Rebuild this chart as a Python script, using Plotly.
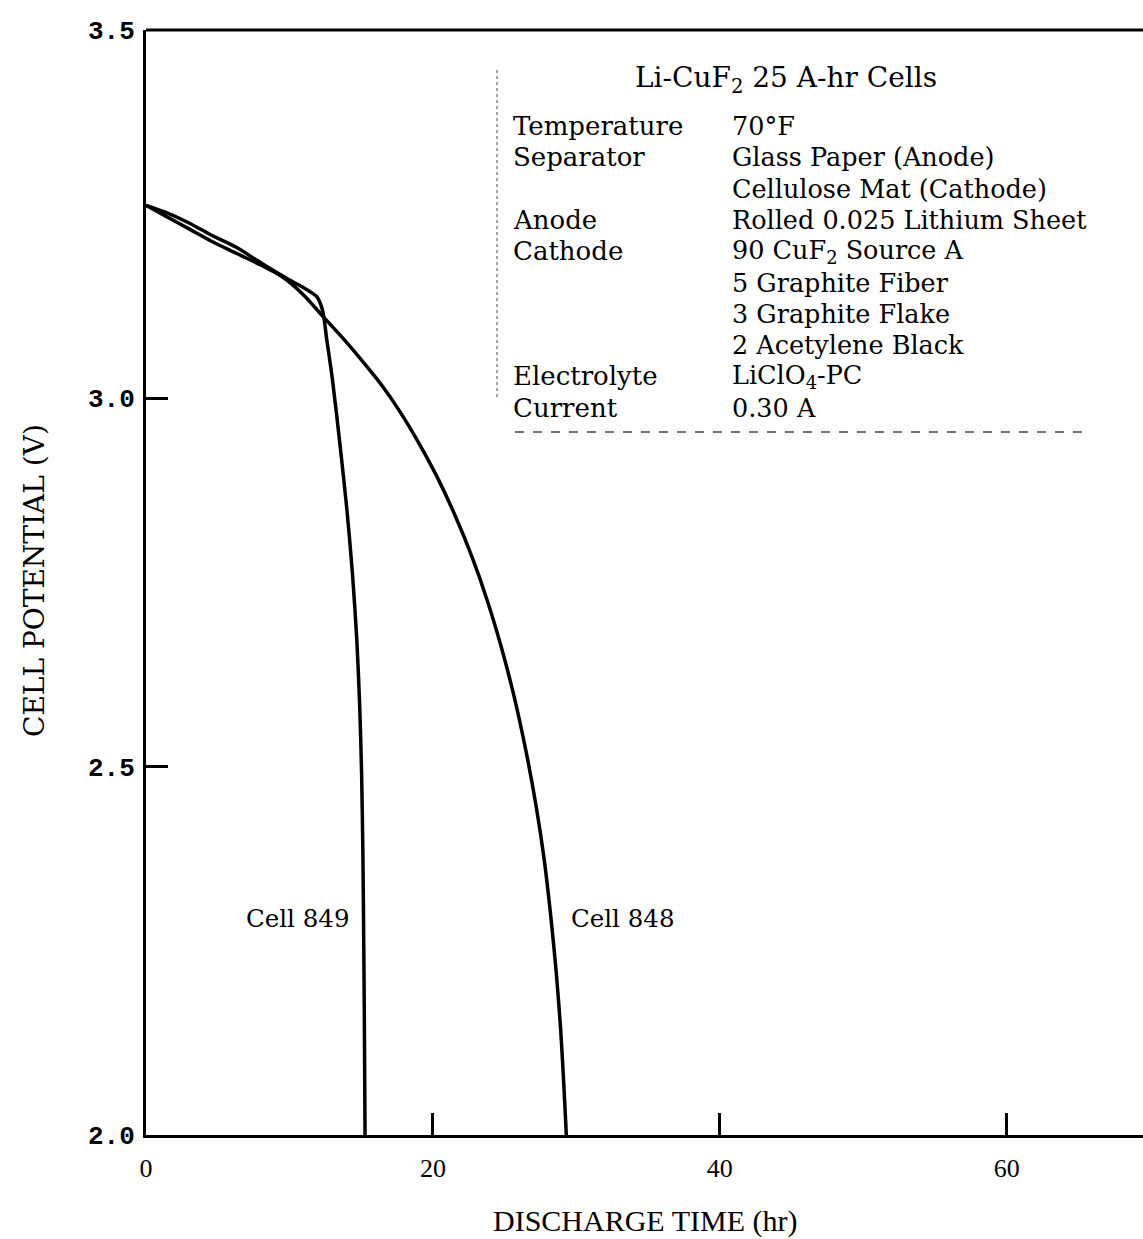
import plotly.graph_objects as go

# ---- data ----
cell848_t = [0.0, 1.5, 3.0, 4.5, 6.5, 8.0, 9.5, 11.0, 12.3, 13.8, 15.4, 16.5, 17.7, 19.0,
             20.3, 21.5, 22.7, 23.8, 24.8, 25.7, 26.5, 27.2, 27.75, 28.2, 28.6, 28.9,
             29.12, 29.25, 29.3]
cell848_v = [3.262, 3.246, 3.230, 3.214, 3.195, 3.181, 3.165, 3.140, 3.112, 3.080, 3.043,
             3.016, 2.982, 2.940, 2.893, 2.843, 2.786, 2.725, 2.660, 2.592, 2.520, 2.446,
             2.375, 2.300, 2.220, 2.145, 2.070, 2.020, 2.000]

cell849_t = [0.0, 1.3, 3.0, 4.5, 6.3, 8.0, 9.8, 11.0, 11.9, 12.3, 12.6, 13.0, 13.5, 14.0,
             14.4, 14.7, 14.9, 15.03, 15.12, 15.18, 15.23, 15.27]
cell849_v = [3.262, 3.253, 3.238, 3.222, 3.205, 3.184, 3.163, 3.150, 3.138, 3.120, 3.080,
             3.025, 2.941, 2.850, 2.760, 2.670, 2.580, 2.490, 2.380, 2.260, 2.130, 2.000]

x_ticks = [0, 20, 40, 60]
x_tick_labels = ["0", "20", "40", "60"]
y_ticks = [2.0, 2.5, 3.0, 3.5]
y_tick_labels = ["2.0", "2.5", "3.0", "3.5"]

info_title = "Li-CuF<sub>2</sub> 25 A-hr Cells"
info_labels = ["Temperature", "Separator", "", "Anode", "Cathode", "", "", "",
               "Electrolyte", "Current"]
info_values = ["70°F", "Glass Paper (Anode)", "Cellulose Mat (Cathode)",
               "Rolled 0.025 Lithium Sheet", "90 CuF<sub>2</sub> Source A",
               "5 Graphite Fiber", "3 Graphite Flake", "2 Acetylene Black",
               "LiClO<sub>4</sub>-PC", "0.30 A"]

series_names = ["Cell 849", "Cell 848"]

# ---- layout constants (pixels) ----
W, H = 1143, 1239
L, R, T, B = 146, 0, 30, 104
PW, PH = W - L - R, H - T - B


def px(xp):
    return (xp - L) / PW


def py(yp):
    return (H - B - yp) / PH


fig = go.Figure()
line_style = dict(color="black", width=3.5, shape="spline", smoothing=0.8)
fig.add_trace(go.Scatter(x=cell848_t, y=cell848_v, mode="lines", line=line_style,
                         name=series_names[1], showlegend=False))
fig.add_trace(go.Scatter(x=cell849_t, y=cell849_v, mode="lines", line=line_style,
                         name=series_names[0], showlegend=False))

serif = "DejaVu Serif"
mono = "Liberation Mono"

annotations = []
# info block
annotations.append(dict(xref="paper", yref="paper", x=px(633), y=py(80), text=info_title,
                        showarrow=False, xanchor="left", yanchor="middle",
                        font=dict(family=serif, size=28, color="black")))
row_y0, row_dy = 126, 31.3
for i, (lab, val) in enumerate(zip(info_labels, info_values)):
    yy = py(row_y0 + i * row_dy)
    if lab:
        annotations.append(dict(xref="paper", yref="paper", x=px(511), y=yy, text=lab,
                                showarrow=False, xanchor="left", yanchor="middle",
                                font=dict(family=serif, size=26, color="black")))
    annotations.append(dict(xref="paper", yref="paper", x=px(730), y=yy, text=val,
                            showarrow=False, xanchor="left", yanchor="middle",
                            font=dict(family=serif, size=25.5, color="black")))

# curve labels
annotations.append(dict(xref="paper", yref="paper", x=px(297), y=py(918), text=series_names[0],
                        showarrow=False, xanchor="center", yanchor="middle",
                        font=dict(family=serif, size=24.5, color="black")))
annotations.append(dict(xref="paper", yref="paper", x=px(622), y=py(918), text=series_names[1],
                        showarrow=False, xanchor="center", yanchor="middle",
                        font=dict(family=serif, size=24.5, color="black")))
# axis titles
annotations.append(dict(xref="paper", yref="paper", x=px(34), y=py(581),
                        text="CELL POTENTIAL (V)", textangle=-90, showarrow=False,
                        xanchor="center", yanchor="middle",
                        font=dict(family=serif, size=28, color="black")))
annotations.append(dict(xref="paper", yref="paper", x=px(645), y=py(1221),
                        text="DISCHARGE TIME (hr)", showarrow=False,
                        xanchor="center", yanchor="middle",
                        font=dict(family="Liberation Serif", size=30, color="black")))

fig.update_layout(
    width=W, height=H,
    margin=dict(l=L, r=R, t=T, b=B, pad=0),
    paper_bgcolor="white", plot_bgcolor="white",
    annotations=annotations,
    showlegend=False,
)
fig.update_xaxes(range=[0, 69.5], tickvals=x_ticks, ticktext=x_tick_labels,
                 ticks="inside", ticklen=22, tickwidth=3, tickcolor="black",
                 showgrid=False, zeroline=False, showline=True, linewidth=3,
                 linecolor="black", mirror=False, ticklabelstandoff=8,
                 tickfont=dict(family="Liberation Serif", size=26, color="black"))
fig.update_yaxes(range=[2.0, 3.5], tickvals=y_ticks, ticktext=y_tick_labels,
                 ticks="inside", ticklen=22, tickwidth=3, tickcolor="black",
                 showgrid=False, zeroline=False, showline=True, linewidth=3,
                 linecolor="black", mirror=False, ticklabelstandoff=3,
                 tickfont=dict(family=mono, size=26, color="black", weight="bold"))
# top border line
fig.add_shape(type="line", xref="paper", yref="paper", x0=0, x1=1, y0=1, y1=1,
              line=dict(color="black", width=3))
# faint dashed paste-up outline around the info block
fig.add_shape(type="line", xref="paper", yref="paper", x0=px(515), x1=px(1090),
              y0=py(432), y1=py(432), line=dict(color="#444", width=1.5, dash="dash"))
fig.add_shape(type="line", xref="paper", yref="paper", x0=px(497), x1=px(497),
              y0=py(70), y1=py(400), line=dict(color="#666", width=1.2, dash="dot"))

fig.write_html("out.html", config={"displayModeBar": False},
               post_script="document.body.style.margin='0';document.body.style.overflow='hidden';")
